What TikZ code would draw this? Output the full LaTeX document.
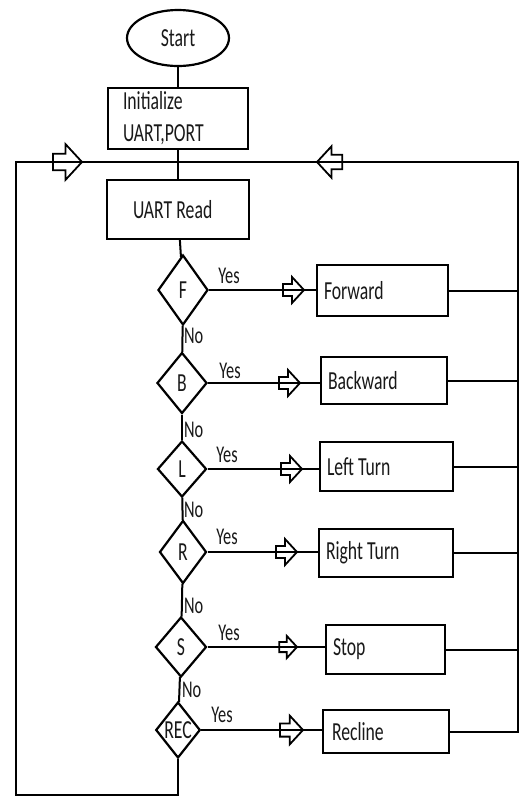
\documentclass[tikz,border=0pt]{standalone}
\usepackage{fontspec}
\setmainfont[FakeStretch=0.68]{Carlito}
\usetikzlibrary{shapes.geometric}

\begin{document}
\begin{tikzpicture}[x=1pt,y=-1pt,
  every node/.style={font=\fontsize{26}{32}\selectfont, text=black!90,
    execute at begin node={\spaceskip=4.2pt\relax\xspaceskip=4.2pt\relax}},
  flow/.style={line width=2pt, draw=black},
  proc/.style={draw=black, line width=2.2pt, rectangle, inner xsep=7pt, inner ysep=0pt, align=left},
  dec/.style={draw=black, line width=2.2pt, diamond, inner sep=0pt, aspect=1},
  term/.style={draw=black, line width=2.2pt, ellipse, inner sep=0pt, minimum width=102pt, minimum height=56pt},
  tag/.style={inner sep=0pt, font=\fontsize{24}{28}\selectfont},
  hollow/.pic={\draw[line width=1.8pt, draw=black, line join=miter]
    (-21,-6) -- (-12,-6) -- (-12,-13) -- (0,0) -- (-12,13) -- (-12,6) -- (-21,6) -- cycle;}
]
\useasboundingbox[fill=white] (0,0) rectangle (528,796);

% main column
\node[term] (start) at (178,38) {Start};
\node[proc, minimum height=61pt, text width=110pt, inner xsep=15pt] (init) at (178,118.5) {Initialize\\UART,PORT};
\node[proc, minimum height=59pt, text width=90pt, inner xsep=26pt] (read) at (178,209.5) {UART Read};

% decisions
\node[dec, minimum width=50pt, minimum height=70pt] (f) at (183,290) {F};
\node[dec, minimum width=50pt, minimum height=61pt] (b) at (182,383) {B};
\node[dec, minimum width=49pt, minimum height=56pt] (l) at (182,469) {L};
\node[dec, minimum width=47pt, minimum height=63pt] (r) at (183,552) {R};
\node[dec, minimum width=51pt, minimum height=60pt] (s) at (181,647) {S};
\node[dec, minimum width=44pt, minimum height=56pt] (rec) at (178,730) {REC};

% actions
\node[proc, text width=117pt, minimum height=51pt] (fwd) at (382.5,290.5) {Forward};
\node[proc, text width=112pt, minimum height=47pt] (bwd) at (384,380.5) {Backward};
\node[proc, text width=119pt, minimum height=49pt] (lt) at (386.5,466.5) {Left Turn};
\node[proc, text width=120pt, minimum height=48pt] (rt) at (386,553) {Right Turn};
\node[proc, text width=105pt, minimum height=49pt] (stp) at (385.5,649.5) {Stop};
\node[proc, text width=108pt, inner xsep=9pt, minimum height=43pt] (rcl) at (386,731.5) {Recline};

% loop corners
\coordinate (ne) at (518,162);
\coordinate (nw) at (16,162);
\coordinate (sw) at (16,795);
\coordinate (se) at (178,795);

% vertical flow
\draw[flow] (start) -- (init);
\draw[flow] (init) -- (read);
\draw[flow] (read) -- (f);
\draw[flow] (f) -- (b);
\draw[flow] (b) -- (l);
\draw[flow] (l) -- (r);
\draw[flow] (r) -- (s);
\draw[flow] (s) -- (rec);

% yes branches
\draw[flow] (f.east) -- (f.east -| fwd.west);
\draw[flow] (b.east) -- (b.east -| bwd.west);
\draw[flow] (l.east) -- (l.east -| lt.west);
\draw[flow] (r.east) -- (r.east -| rt.west);
\draw[flow] (s.east) -- (s.east -| stp.west);
\draw[flow] (rec.east) -- (rec.east -| rcl.west);

% return bus
\draw[flow] (fwd.east) -- (fwd.east -| ne);
\draw[flow] (bwd.east) -- (bwd.east -| ne);
\draw[flow] (lt.east) -- (lt.east -| ne);
\draw[flow] (rt.east) -- (rt.east -| ne);
\draw[flow] (stp.east) -- (stp.east -| ne);
\draw[flow] (rcl.east) -- (rcl.east -| ne) -- (ne) -- (nw) -- (sw) -- (se) -- (rec.south);

% direction marks
\pic at (304,290) {hollow};
\pic at (300,383) {hollow};
\pic at (302,469) {hollow};
\pic at (297,552) {hollow};
\pic[scale=0.85] at (297,647) {hollow};
\pic[scale=1.1] at (303,730) {hollow};
\pic[scale=1.38] at (82,162) {hollow};
\pic[scale=1.2, rotate=180] at (317,162) {hollow};

% labels
\node[tag] (y1) at (229,276) {Yes};
\node[tag] (y2) at (230,371) {Yes};
\node[tag] (y3) at (227,455) {Yes};
\node[tag] (y4) at (227,537) {Yes};
\node[tag] (y5) at (229,633) {Yes};
\node[tag] (y6) at (222,715) {Yes};
\node[tag, anchor=west] (n1) at (184,336) {No};
\node[tag, anchor=west] (n2) at (184,430) {No};
\node[tag, anchor=west] (n3) at (184,510) {No};
\node[tag, anchor=west] (n4) at (184,606) {No};
\node[tag, anchor=west] (n5) at (182,690) {No};
\end{tikzpicture}
\end{document}
